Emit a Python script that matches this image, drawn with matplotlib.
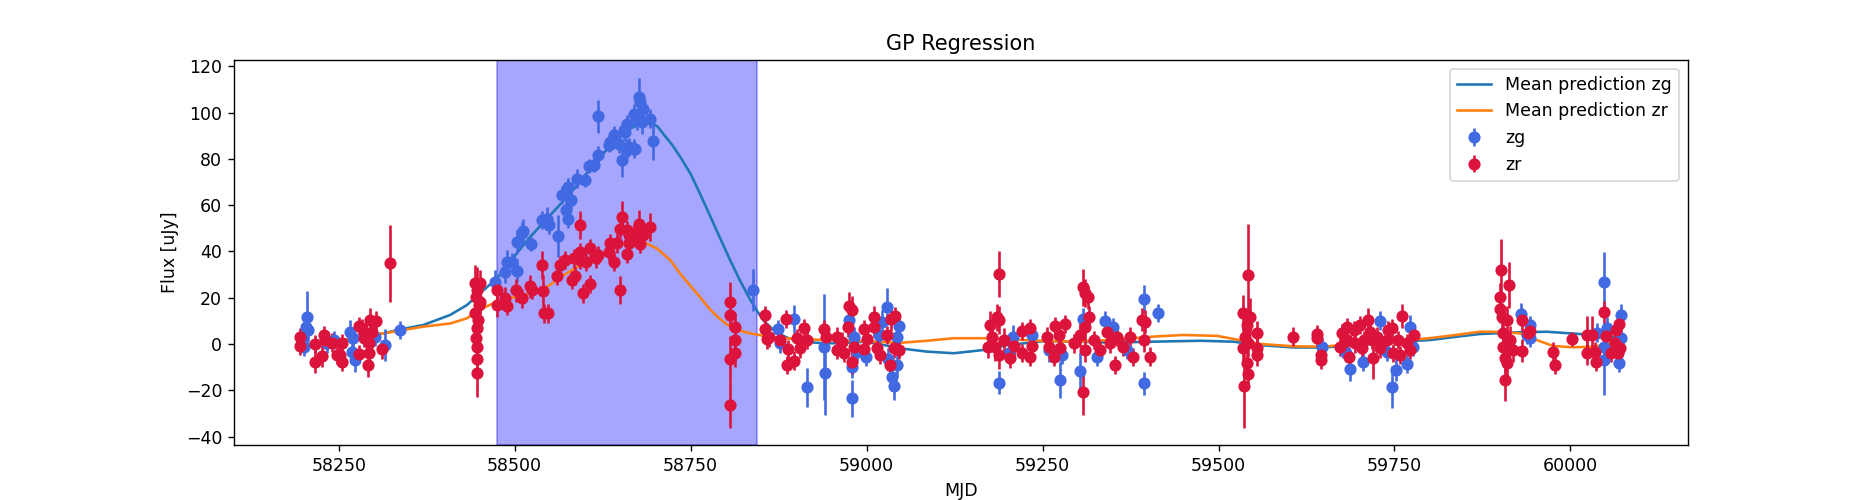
import matplotlib
matplotlib.use("Agg")
import matplotlib.pyplot as plt
import numpy as np

# ---------------- data ----------------
zg_mjd = [58200, 58203, 58205, 58207, 58233.5, 58243, 58266.6, 58271, 58269, 58273.7, 58290, 58302, 58316, 58336.6,
          58472.6, 58486.8, 58489, 58496, 58503.4, 58503.4, 58510.5, 58512, 58523, 58539, 58546, 58548.3, 58561,
          58567.3, 58573.4, 58575.3, 58575.3, 58580, 58588.6, 58600.4, 58605, 58612, 58618, 58618, 58633.5, 58636,
          58640.6, 58643, 58648, 58652.5, 58655, 58657, 58659.6, 58659.6, 58662, 58669, 58669, 58671, 58674, 58676,
          58677.5, 58681, 58683, 58692.7, 58696, 58838,
          58873.6, 58877.4, 58897.3, 58916, 58939, 58941.3, 58974.5, 58979, 58979, 58981.5, 58986.3, 58999.6, 59017,
          59022, 59029, 59030, 59036, 59039.3, 59043, 59043, 59045.5,
          59187.5, 59201.7, 59208, 59235, 59258.5, 59275, 59277.6, 59303.5, 59307.3, 59327, 59339, 59350.8, 59370,
          59393.5, 59393.5, 59413.4,
          59646.8, 59681.6, 59687, 59706, 59729.5, 59739, 59747, 59752, 59768.5, 59772.5, 59777,
          59930, 59938, 59942.7, 59942.7, 60038, 60047.8, 60047.8, 60047.8, 60051.7, 60069.6, 60072.5, 60072.5]
zg_flux = [-1.2, 7.5, 11.8, 6, 0.3, 1.7, 5.3, 2.5, -3.3, -6.9, 1.7, 3.2, -0.4, 6,
           26.9, 31.2, 35.5, 35.5, 31.6, 44.2, 47.8, 48.9, 43.2, 53.5, 54.2, 51.4, 46.6,
           64.3, 57.8, 54.2, 67.9, 62.2, 71.5, 70.8, 76.8, 77.3, 98.4, 81.6, 85.9, 87.3,
           90.2, 88.8, 86.6, 79.4, 92.4, 91.6, 84.5, 95.2, 85.2, 99.6, 84.5, 84.5, 96.7, 106.7,
           104.6, 95.9, 101.7, 97.4, 87.6, 23.3,
           6.3, 0.3, 10.8, -18.8, -1.2, -12.6, 10.4, -9.8, -23.4, 3.2, -3.3, -5.7, 3.9,
           9.6, 16.1, -6.6, -14.4, -18.1, -9.1, 2.9, 7.8,
           -16.7, -3.7, 3.2, 3.9, -2.6, -15.5, -4.7, -11.5, 10.7, -5.5, 10.1, 7.2, -2.6,
           19.3, -17, 13.5,
           -1.4, -4, -10.8, -7.6, 10.1, -3.3, -18.7, -11.2, -8.6, 7.5, -1.4,
           12.9, 3.9, 8.2, 2.5, 4.9, 26.6, -6.9, -1.2, 6.8, -8.3, 12.5, 2.5]
zg_err = [4, 6, 11, 5, 4, 4, 5, 5, 5, 5, 5, 4, 7, 4,
          5, 5, 5, 4, 5, 5, 5, 5, 3, 4, 5, 4, 9,
          4, 4, 4, 4, 4, 4, 3, 3, 3, 7, 4, 3, 4,
          4, 4, 4, 7, 4, 4, 4, 4, 4, 4, 4, 3, 4, 8.5,
          4, 5, 4, 4, 8, 9,
          4, 4, 6, 8.5, 23, 18, 5, 5, 8, 4, 4, 4, 5,
          5, 8, 5, 6, 6, 5, 5, 5,
          5, 5, 5, 5, 5, 8, 4, 8, 5, 4, 4, 4, 4,
          6, 5, 4,
          4, 4, 5, 4, 4, 4, 9, 5, 4, 5, 4,
          5, 4, 4, 4, 4, 13, 15, 5, 5, 4, 5, 4]

zr_mjd = [58195.6, 58195.6, 58217, 58217, 58226.4, 58228.7, 58231, 58240.6, 58247.7, 58252.4, 58254.8, 58254.8,
          58278.4, 58283, 58278.4, 58285.5, 58292.6, 58291, 58294, 58303.5, 58297.4, 58292.6, 58311.6, 58323.4,
          58443, 58447, 58445, 58449, 58444, 58448, 58446, 58445, 58446, 58446, 58447, 58451, 58451,
          58475, 58475, 58486.8, 58489, 58502.4, 58510.5, 58522, 58524.7, 58539, 58540, 58541, 58548, 58560,
          58565, 58572, 58581.5, 58583.8, 58586, 58593, 58593, 58593, 58597, 58601.8, 58606.5, 58606.5, 58616,
          58619, 58633.5, 58636, 58640.6, 58645.5, 58650, 58650, 58652.5, 58659.6, 58659.6, 58662, 58662, 58669,
          58671.5, 58676, 58678.5, 58681, 58683, 58692.7,
          58805.5, 58805.5, 58813.5, 58813.5, 58813.5, 58805.5, 58805.5,
          58855, 58855, 58860.8, 58858.5, 58877.4, 58886, 58889, 58887, 58896.3, 58901, 58910.5, 58906, 58915.3,
          58939, 58942.7, 58958, 58958, 58965, 58967.3, 58974.5, 58979, 58973, 58979, 58981.5, 58995.7, 58996.7,
          59000.5, 59011, 59011, 59014.8, 59019.5, 59029, 59034.7, 59040.8, 59033.7, 59038.4, 59045.5,
          59175.7, 59185, 59187.5, 59178, 59183, 59187.5, 59194.6, 59204, 59173, 59187.5, 59209, 59221, 59231.5,
          59221, 59232.5, 59235, 59256, 59258.5, 59268, 59272.7, 59282, 59265.6, 59275, 59294, 59308, 59310.7,
          59314, 59315.3, 59310.7, 59308, 59303.5, 59310.7, 59322.5, 59332, 59341.5, 59346, 59355.6, 59353,
          59365, 59374.5, 59379, 59391, 59395.8, 59393.5, 59403,
          59542.6, 59535.5, 59545, 59540, 59538, 59542.6, 59535.5, 59554.6, 59555.4, 59554.6, 59540, 59542.6,
          59536.5, 59606.5, 59640.6, 59640.6, 59646.3, 59646.3,
          59675.3, 59673, 59682.5, 59685, 59682.5, 59692, 59694.4, 59701.6, 59706.3, 59704, 59713, 59715.6,
          59720, 59717.7, 59724.8, 59729.5, 59739, 59741.4, 59746, 59748.6, 59755.7, 59761.4, 59758.4, 59767.8,
          59772.5, 59778,
          59901.6, 59913.4, 59900, 59900, 59902.5, 59909.6, 59904.4, 59914, 59904.4, 59919, 59906.7, 59909.6,
          59906.7, 59931, 59931, 59940.3, 59942.7, 59975.9, 59978, 60002.8, 60023.3, 60030.4, 60023.3, 60037,
          60034.6, 60048, 60051, 60058, 60063, 60065, 60069.6, 60068, 60070.6]
zr_flux = [2.9, -0.9, 0, -7.6, -5, 3.9, 1.7, 0.6, -4.7, -4.7, 0.3, -7.6,
           7.8, 6.8, -4.3, 2.5, 0.3, -9.1, 10.4, 10.1, 5.3, -4, -2.3, 34.8,
           26.2, 23.3, 20.4, 16.8, 13.2, 10.4, 6.8, 2.5, -1.2, -6.6, -12.6, 26.2, 18,
           23.3, 16.8, 19.7, 16.4, 23.3, 19.7, 25, 23.3, 34.1, 23, 13.2, 13.2, 29.3,
           34.1, 36.3, 27.6, 37, 29.3, 51.4, 39.8, 36.3, 21.9, 35.5, 41.3, 25.9, 37,
           38.4, 39.8, 43.5, 35.5, 43.5, 49.9, 23.3, 54.9, 39.1, 49.2, 47, 43.5, 48,
           47, 51.8, 43.2, 47.8, 47, 50.6,
           18.3, 12.5, 7.2, 1.7, -4, -6.5, -26.3,
           12.5, 6.3, 2.9, 2, 1.7, 10.8, -2.3, -9.1, -7.2, 2.5, 6.8, -1.9, 1.7,
           6.3, 2.9, 3.2, -2.6, 1, -3.7, 16.4, 14.7, 7.2, -8, -1.2, 6.3, -2.3,
           2, 11.5, 7.2, -1.9, -4.7, 3.9, 10.7, 12.1, -9.1, -1.9, -2.6,
           8.2, 11.5, 10.4, 3.2, -1.2, -4.7, 1.7, -6.2, -1.2, 30.2, -0.9, 5.7, 6.8,
           -4, -5.5, -0.9, 3.2, -1.2, 7.8, 3.9, 8.6, -5.5, -1.9, 0.3, 24.5, 21.9,
           20.2, 11.5, 7.2, -20.8, 3.9, -2.6, 1.7, -2.6, 5.3, 0.3, 3.2, -9.1,
           -1.2, 3.2, -5.7, 10.4, 9.6, 1.7, -5.5,
           29.8, 13.2, 11.8, 8.2, 3.2, 0.3, -1.9, -1.9, 4.9, -4.7, -8.3, -13.1,
           -18.1, 3.2, 4.3, 2.5, -4.7, -6.9,
           4.6, -1.2, 7.2, -5.5, 1.7, 6, 0.3, 8.2, 1.7, -1.9, 10.4, 5.3,
           -6.2, 1.7, 3.2, -1.9, 1.7, 6, 6.8, -4, 1.7, 12.1, -4.7, 0.3,
           -2.6, 3.9,
           32.2, 25.5, 20.4, 15, 11.8, 10.4, 4.6, 1.7, -1.2, -2.6, -6.2, -8.3,
           -15.5, 10.4, -3, 4.6, 5.7, -3.3, -9.1, 2, 3.9, 3.9, -4, -7.6,
           -3.3, 13.7, 3.5, -4, 0.3, 6, 8.6, -4, -1.9]
zr_err = [4, 4, 4, 5, 5, 4, 4, 4, 4, 4, 4, 4,
          4, 4, 4, 4, 4, 5, 5, 4, 4, 4, 4, 16.5,
          8, 10, 6, 6, 6, 6, 5, 5, 5, 5, 10.5, 6, 5,
          5, 5, 5, 4, 5, 4, 5, 4, 6, 7, 4, 4, 4,
          4, 4, 4, 4, 4, 6, 4, 4, 4, 4, 4, 4, 4,
          4, 4, 4, 4, 4, 4, 6, 7, 4, 4, 4, 4, 4,
          4, 6, 4, 4, 4, 6,
          8.6, 6, 6, 6, 6, 10, 9.8,
          4, 4, 4, 4, 4, 4, 4, 4, 4, 4, 4, 4, 4,
          4, 4, 4, 4, 4, 4, 6, 6, 4, 5, 4, 4, 4,
          4, 5, 4, 4, 4, 4, 5, 4, 4, 4, 4,
          6, 6, 6, 6, 6, 6, 5, 4, 5, 10, 4, 4, 4,
          4, 4, 4, 4, 4, 4, 4, 4, 4, 4, 4, 8, 6,
          5, 5, 5, 10, 5, 5, 4, 4, 4, 4, 4, 4,
          4, 4, 4, 5, 5, 5, 4,
          22, 8, 8, 6, 6, 6, 6, 5, 5, 5, 6, 6,
          18, 4, 4, 4, 4, 4,
          4, 4, 4, 4, 4, 4, 4, 4, 4, 4, 5, 4,
          9, 4, 4, 4, 4, 4, 4, 4, 4, 5, 4, 4,
          4, 4,
          13, 10, 6, 6, 6, 6, 6, 6, 6, 5, 6, 6,
          9, 5, 5, 4, 4, 4, 4, 3, 8, 8, 5, 4,
          4, 5, 4, 4, 4, 4, 4, 4, 4]

# GP mean prediction curves
zg_line_mjd = [58196, 58230, 58260, 58290, 58314, 58337, 58370, 58408, 58432, 58451, 58475, 58499, 58522, 58546,
               58570, 58593, 58617, 58641, 58664, 58683, 58693, 58703, 58712, 58724, 58735, 58750, 58764, 58777,
               58790, 58805, 58820, 58835, 58845, 58854, 58866, 58877, 58890, 58906, 58930, 58953, 59001, 59048,
               59086, 59124, 59166, 59200, 59250, 59300, 59350, 59408, 59474, 59521, 59560, 59607, 59649, 59673,
               59720, 59760, 59800, 59840, 59871, 59920, 59966, 60014, 60038, 60072]
zg_line_flux = [-0.5, 0.3, 1.5, 3.3, 4.6, 6.3, 8.2, 12.5, 16.8, 22.0, 28.4, 37.7, 46.3, 54.2,
                62.1, 70.0, 79.4, 87.3, 93.1, 95.9, 95.8, 94.0, 90.5, 86.0, 81.0, 73.5, 64.5, 55.8,
                47.0, 37.0, 27.5, 19.0, 14.0, 10.0, 6.5, 4.2, 2.4, 1.2, 0.5, 0.3, 1.0, -1.9,
                -3.3, -4.0, -2.6, -0.5, 1.2, 1.0, 0.6, 1.0, 1.4, 1.0, -0.5, -1.5, -1.5, -1.0,
                0.0, 1.0, 1.7, 3.2, 4.3, 5.0, 5.3, 4.3, 3.9, 2.5]
zr_line_mjd = [58196, 58230, 58260, 58290, 58314, 58370, 58409, 58432, 58451, 58475, 58499, 58522, 58546, 58570,
               58593, 58617, 58641, 58664, 58683, 58702, 58721, 58735, 58750, 58764, 58776, 58788, 58800, 58811,
               58823, 58835, 58859, 58906, 58953, 59001, 59048, 59086, 59124, 59166, 59247, 59300, 59350, 59408,
               59450, 59498, 59530, 59560, 59607, 59649, 59673, 59720, 59760, 59800, 59840, 59871, 59900, 59928,
               59952, 59976, 60004, 60033, 60047, 60072]
zr_line_flux = [-1.0, 0.5, 2.0, 3.5, 4.6, 7.5, 8.9, 11.1, 15.0, 18.3, 20.2, 21.9, 24.7, 29.8,
                34.1, 37.0, 41.3, 44.3, 44.1, 41.3, 36.3, 30.5, 25.0, 20.0, 15.5, 11.8, 8.8, 6.8,
                5.5, 4.6, 3.2, 2.0, 1.7, 1.2, 0.5, 1.4, 2.5, 2.5, 1.4, 1.0, 1.8, 3.2,
                3.9, 3.5, 1.7, 0.0, -1.0, -1.2, -0.5, 0.5, 1.5, 2.5, 4.0, 5.3, 5.2, 4.6,
                1.7, -0.9, -1.4, -1.2, -0.4, 1.5]

span_start = 58475
span_end = 58844

# ---------------- plot ----------------
fig, ax = plt.subplots(figsize=(15, 4), dpi=125)

ax.plot(zg_line_mjd, zg_line_flux, color="C0", label="Mean prediction zg")
ax.plot(zr_line_mjd, zr_line_flux, color="C1", label="Mean prediction zr")

ax.errorbar(zg_mjd, zg_flux, yerr=zg_err, fmt="o", color="royalblue", label="zg")
ax.errorbar(zr_mjd, zr_flux, yerr=zr_err, fmt="o", color="crimson", label="zr")

ax.axvspan(span_start, span_end, color="blue", alpha=0.35)

ax.set_title("GP Regression")
ax.set_xlabel("MJD")
ax.set_ylabel("Flux [uJy]")
ax.legend(loc="upper right")

fig.savefig("out.png", dpi=125)
